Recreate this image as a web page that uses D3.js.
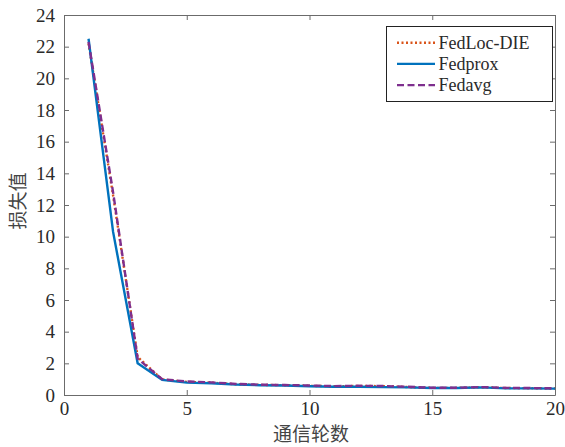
<!DOCTYPE html>
<html>
<head>
<meta charset="utf-8">
<script src="https://cdn.jsdelivr.net/npm/d3@7"></script>
<style>
  body { margin: 0; background: #fff; }
  svg { display: block; }
</style>
</head>
<body>
<svg id="chart" width="565" height="447"></svg>
<script>
// Communication rounds and loss values per method
const rounds = d3.range(1, 21);
const fedLocDIE = [22.2, 12.6, 2.4, 0.98, 0.83, 0.78, 0.68, 0.64, 0.62, 0.58, 0.55, 0.57, 0.56, 0.50, 0.45, 0.45, 0.49, 0.44, 0.43, 0.41];
const fedProx   = [22.5, 10.3, 2.0, 0.95, 0.78, 0.74, 0.66, 0.62, 0.60, 0.55, 0.52, 0.52, 0.50, 0.48, 0.44, 0.44, 0.48, 0.42, 0.42, 0.40];
const fedAvg    = [22.3, 12.8, 2.3, 1.00, 0.85, 0.80, 0.70, 0.65, 0.63, 0.60, 0.56, 0.58, 0.57, 0.52, 0.46, 0.46, 0.50, 0.45, 0.44, 0.42];
const xTicks = [0, 5, 10, 15, 20];
const yTicks = d3.range(0, 25, 2);
const seriesNames = ["FedLoc-DIE", "Fedprox", "Fedavg"];

const svg = d3.select("#chart");
const m = { left: 64, right: 555, top: 15, bottom: 395 };
const x = d3.scaleLinear().domain([0, 20]).range([m.left, m.right]);
const y = d3.scaleLinear().domain([0, 24]).range([m.bottom, m.top]);

const axisColor = "#6b6b6b";
const textColor = "#2a2a2a";
const serif = "'Liberation Serif', 'Times New Roman', 'DejaVu Serif', serif";
const cjk = "'Noto Sans CJK SC', sans-serif";

// Axes with inward ticks on all four sides
function styleAxis(g) {
  g.attr("font-family", null).attr("font-size", null);
  g.select(".domain").attr("stroke", axisColor).attr("stroke-width", 1);
  g.selectAll(".tick line").attr("stroke", axisColor);
  g.selectAll("text").attr("fill", textColor)
    .style("font-family", serif).style("font-size", "19px");
}
svg.append("g").attr("transform", `translate(0,${m.bottom})`)
  .call(d3.axisBottom(x).tickValues(xTicks).tickSizeInner(-5).tickSizeOuter(0).tickPadding(7))
  .call(styleAxis);
svg.append("g").attr("transform", `translate(${m.left},0)`)
  .call(d3.axisLeft(y).tickValues(yTicks).tickSizeInner(-5).tickSizeOuter(0).tickPadding(9))
  .call(styleAxis);
svg.append("g").attr("transform", `translate(0,${m.top})`)
  .call(d3.axisTop(x).tickValues(xTicks).tickSizeInner(-5).tickSizeOuter(0).tickFormat(""))
  .call(styleAxis);
svg.append("g").attr("transform", `translate(${m.right},0)`)
  .call(d3.axisRight(y).tickValues(yTicks).tickSizeInner(-5).tickSizeOuter(0).tickFormat(""))
  .call(styleAxis);

// Axis titles
svg.append("text").attr("x", 311).attr("y", 441)
  .attr("text-anchor", "middle").attr("fill", "#444")
  .style("font-family", cjk).style("font-size", "19px").text("通信轮数");
svg.append("text").attr("transform", "translate(24.5,201) rotate(-90)")
  .attr("text-anchor", "middle").attr("fill", "#444")
  .style("font-family", cjk).style("font-size", "19px").text("损失值");

// Series lines
const series = [
  { name: seriesNames[0], values: fedLocDIE, color: "#D95319", dash: "2,2.5" },
  { name: seriesNames[1], values: fedProx,   color: "#0072BD", dash: null },
  { name: seriesNames[2], values: fedAvg,    color: "#7E2F8E", dash: "7,3.5" }
];
const line = d3.line().x((d, i) => x(rounds[i])).y(d => y(d));
series.forEach(s => {
  svg.append("path").datum(s.values)
    .attr("d", line).attr("fill", "none")
    .attr("stroke", s.color).attr("stroke-width", 2.4)
    .attr("stroke-dasharray", s.dash);
});

// Legend
const lg = svg.append("g");
lg.append("rect").attr("x", 386.5).attr("y", 26.5).attr("width", 166).attr("height", 75)
  .attr("fill", "#fff").attr("stroke", "#222").attr("stroke-width", 1);
series.forEach((s, i) => {
  const ly = 42.7 + i * 21.2;
  lg.append("line").attr("x1", 397).attr("x2", 435).attr("y1", ly).attr("y2", ly)
    .attr("stroke", s.color).attr("stroke-width", 2.4).attr("stroke-dasharray", s.dash);
  lg.append("text").attr("x", 438.5).attr("y", ly + 6).attr("fill", textColor)
    .style("font-family", serif).style("font-size", "18px").text(s.name);
});
</script>
</body>
</html>
